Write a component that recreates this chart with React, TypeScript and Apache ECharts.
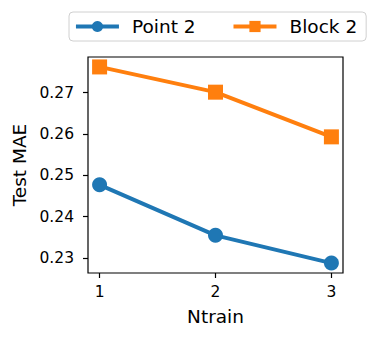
import React, { useEffect, useRef } from "react";
import * as echarts from "echarts";

const ntrain = [1, 2, 3];
const point2 = [0.2477, 0.2355, 0.2288];
const block2 = [0.2762, 0.2701, 0.2593];
const yTicks = [0.23, 0.24, 0.25, 0.26, 0.27];
const xTicks = [1, 2, 3];

const FONT = "DejaVu Sans";

export default function App() {
  const ref = useRef<HTMLDivElement>(null);
  useEffect(() => {
    if (!ref.current) return;
    const chart = echarts.init(ref.current, undefined, { renderer: "svg" });
    chart.setOption({
      animation: false,
      backgroundColor: "#fff",
      grid: {
        left: 88,
        right: 31,
        top: 57,
        bottom: 67,
        show: true,
        borderColor: "#000",
        borderWidth: 1.2,
        backgroundColor: "transparent",
      },
      legend: {
        left: 69,
        top: 12,
        orient: "horizontal",
        itemWidth: 43,
        itemHeight: 14,
        itemGap: 36,
        padding: [5, 9, 5, 5],
        borderColor: "#d0d0d0",
        borderWidth: 1,
        borderRadius: 4,
        backgroundColor: "#fff",
        lineStyle: { width: 3.9 },
        textStyle: {
          fontFamily: FONT,
          fontSize: 18.5,
          color: "#000",
          padding: [0, 0, 0, 8],
        },
        data: ["Point 2", "Block 2"],
      },
      xAxis: {
        type: "value",
        min: 0.9,
        max: 3.1,
        name: "Ntrain",
        nameLocation: "middle",
        nameGap: 34,
        nameTextStyle: { fontFamily: FONT, fontSize: 18.5, color: "#000" },
        axisLine: { show: false },
        axisTick: {
          show: true,
          length: 5,
          lineStyle: { color: "#000", width: 1.2 },
          customValues: xTicks,
        },
        axisLabel: {
          fontFamily: FONT,
          fontSize: 15.5,
          color: "#000",
          margin: 11,
          customValues: xTicks,
          formatter: (v: number) => String(v),
        },
        splitLine: { show: false },
      },
      yAxis: {
        type: "value",
        min: 0.2264,
        max: 0.2786,
        name: "Test MAE",
        nameLocation: "middle",
        nameGap: 57,
        nameTextStyle: { fontFamily: FONT, fontSize: 18.5, color: "#000" },
        axisLine: { show: false },
        axisTick: {
          show: true,
          length: 5,
          lineStyle: { color: "#000", width: 1.2 },
          customValues: yTicks,
        },
        axisLabel: {
          fontFamily: FONT,
          fontSize: 15.5,
          color: "#000",
          margin: 14,
          customValues: yTicks,
          formatter: (v: number) => v.toFixed(2),
        },
        splitLine: { show: false },
      },
      series: [
        {
          name: "Point 2",
          type: "line",
          data: ntrain.map((x, i) => [x, point2[i]]),
          symbol: "circle",
          symbolSize: 15,
          lineStyle: { width: 3.9, color: "#1f77b4" },
          itemStyle: { color: "#1f77b4" },
        },
        {
          name: "Block 2",
          type: "line",
          data: ntrain.map((x, i) => [x, block2[i]]),
          symbol: "rect",
          symbolSize: 15,
          lineStyle: { width: 3.9, color: "#ff7f0e" },
          itemStyle: { color: "#ff7f0e" },
        },
      ],
    });
    return () => chart.dispose();
  }, []);
  return (
    <div
      ref={ref}
      style={{ position: "fixed", left: 0, top: 0, width: 374, height: 340 }}
    />
  );
}
